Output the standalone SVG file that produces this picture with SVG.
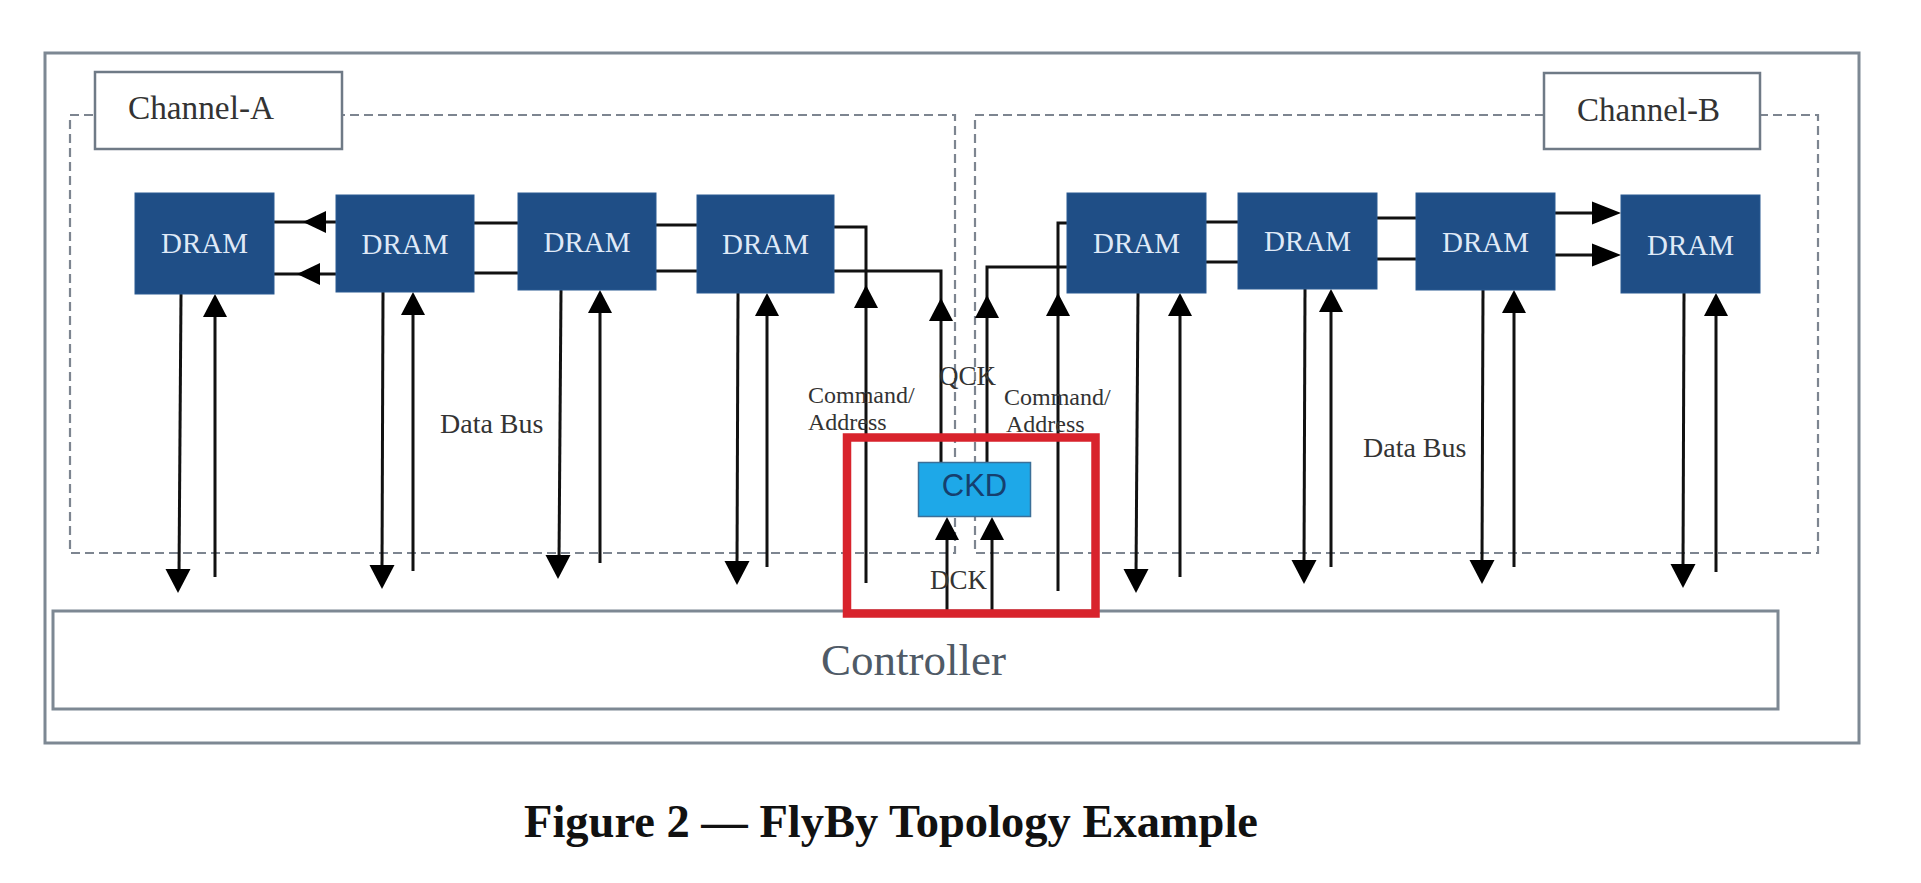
<svg xmlns="http://www.w3.org/2000/svg" xmlns:xlink="http://www.w3.org/1999/xlink" width="1921" height="883" viewBox="0 0 1921 883">
<style>
.frame{fill:#fff;stroke:#7d8893;stroke-width:3}
.dash{fill:none;stroke:#7d8590;stroke-width:2.2;stroke-dasharray:9 5}
.lbl{fill:#fff;stroke:#6f7a86;stroke-width:2.5}
.dram{fill:#1f4e86;stroke:#2a5a92;stroke-width:1}
.dtxt{font-family:"Liberation Serif","Times New Roman",serif;font-size:29px;fill:#dfe9f7;text-anchor:middle}
.ser{font-family:"Liberation Serif","Times New Roman",serif;fill:#333}
.w{fill:none;stroke:#111;stroke-width:3}
.ah{fill:#000}
</style>
<defs>
<path id="up" d="M0,0 L12,23 L-12,23 Z"/>
<path id="dn" d="M0,0 L12.5,-24 L-12.5,-24 Z"/>
<path id="lt" d="M0,0 L23,-11 L23,11 Z"/>
<path id="rt" d="M0,0 L-29,-11.5 L-29,11.5 Z"/>
</defs>
<rect width="1921" height="883" fill="#fff"/>
<g id="frame">
<rect class="frame" x="45" y="53" width="1814" height="690"/>
</g>
<g id="channel-a">
<path class="dash" d="M70,115 H955 V553 H70 Z"/>
<rect class="lbl" x="95" y="72" width="247" height="77"/>
<text class="ser" x="128" y="119" font-size="33" textLength="146" lengthAdjust="spacingAndGlyphs">Channel-A</text>
</g>
<g id="channel-b">
<path class="dash" d="M975,115 H1818 V553 H975 Z"/>
<rect class="lbl" x="1544" y="73" width="216" height="76"/>
<text class="ser" x="1577" y="121" font-size="33">Channel-B</text>
</g>
<g id="controller">
<rect class="frame" x="53" y="611" width="1725" height="98"/>
<text x="821" y="675" font-family="Liberation Serif,'Times New Roman',serif" font-size="45" fill="#4f5a66">Controller</text>
</g>
<g id="connectors">
<path class="w" d="M336,222 H274"/>
<path class="w" d="M336,274 H274"/>
<use href="#lt" class="ah" x="303" y="222"/>
<use href="#lt" class="ah" x="297" y="274"/>
<path class="w" d="M474,223 H518"/>
<path class="w" d="M474,273 H518"/>
<path class="w" d="M656,225 H697"/>
<path class="w" d="M656,271 H697"/>
<path class="w" d="M834,227 H866 V583"/>
<use href="#up" class="ah" x="866" y="285"/>
<path class="w" d="M834,271 H941 V462"/>
<use href="#up" class="ah" x="941" y="298"/>
<path class="w" d="M1067,267 H987 V462"/>
<use href="#up" class="ah" x="987" y="295"/>
<path class="w" d="M1067,223 H1058 V591"/>
<use href="#up" class="ah" x="1058" y="293"/>
<path class="w" d="M1206,222 H1238"/>
<path class="w" d="M1206,262 H1238"/>
<path class="w" d="M1377,218 H1416"/>
<path class="w" d="M1377,259 H1416"/>
<path class="w" d="M1555,213 H1600"/>
<path class="w" d="M1555,255 H1600"/>
<use href="#rt" class="ah" x="1621" y="213"/>
<use href="#rt" class="ah" x="1621" y="255"/>
<path class="w" d="M947,611 V530"/>
<path class="w" d="M992,611 V530"/>
<use href="#up" class="ah" x="947" y="517"/>
<use href="#up" class="ah" x="992" y="517"/>
<path class="w" d="M181,294 L179,575"/>
<use href="#dn" class="ah" x="178" y="593"/>
<path class="w" d="M215,577 V305"/>
<use href="#up" class="ah" x="215" y="294"/>
<path class="w" d="M383,292 L382,572"/>
<use href="#dn" class="ah" x="382" y="589"/>
<path class="w" d="M413,571 V303"/>
<use href="#up" class="ah" x="413" y="292"/>
<path class="w" d="M561,290 L559,562"/>
<use href="#dn" class="ah" x="558" y="579"/>
<path class="w" d="M600,563 V301"/>
<use href="#up" class="ah" x="600" y="290"/>
<path class="w" d="M738,293 L737,568"/>
<use href="#dn" class="ah" x="737" y="585"/>
<path class="w" d="M767,567 V304"/>
<use href="#up" class="ah" x="767" y="293"/>
<path class="w" d="M1138,293 L1136,576"/>
<use href="#dn" class="ah" x="1136" y="593"/>
<path class="w" d="M1180,577 V304"/>
<use href="#up" class="ah" x="1180" y="293"/>
<path class="w" d="M1305,289 L1304,567"/>
<use href="#dn" class="ah" x="1304" y="584"/>
<path class="w" d="M1331,567 V300"/>
<use href="#up" class="ah" x="1331" y="289"/>
<path class="w" d="M1483,290 L1482,567"/>
<use href="#dn" class="ah" x="1482" y="584"/>
<path class="w" d="M1514,567 V301"/>
<use href="#up" class="ah" x="1514" y="290"/>
<path class="w" d="M1684,293 L1683,571"/>
<use href="#dn" class="ah" x="1683" y="588"/>
<path class="w" d="M1716,572 V304"/>
<use href="#up" class="ah" x="1716" y="293"/>
</g>
<g id="dram1"><rect class="dram" x="135" y="193" width="139" height="101"/><text class="dtxt" x="204.5" y="253">DRAM</text></g>
<g id="dram2"><rect class="dram" x="336" y="195" width="138" height="97"/><text class="dtxt" x="405" y="254">DRAM</text></g>
<g id="dram3"><rect class="dram" x="518" y="193" width="138" height="97"/><text class="dtxt" x="587" y="252">DRAM</text></g>
<g id="dram4"><rect class="dram" x="697" y="195" width="137" height="98"/><text class="dtxt" x="765.5" y="254">DRAM</text></g>
<g id="dram5"><rect class="dram" x="1067" y="193" width="139" height="100"/><text class="dtxt" x="1136.5" y="253">DRAM</text></g>
<g id="dram6"><rect class="dram" x="1238" y="193" width="139" height="96"/><text class="dtxt" x="1307.5" y="251">DRAM</text></g>
<g id="dram7"><rect class="dram" x="1416" y="193" width="139" height="97"/><text class="dtxt" x="1485.5" y="252">DRAM</text></g>
<g id="dram8"><rect class="dram" x="1621" y="195" width="139" height="98"/><text class="dtxt" x="1690.5" y="255">DRAM</text></g>
<g id="labels">
<text class="ser" x="440" y="433" font-size="28">Data Bus</text>
<text class="ser" x="1363" y="457" font-size="28">Data Bus</text>
<text class="ser" x="808" y="403" font-size="24">Command/</text>
<text class="ser" x="808" y="430" font-size="24">Address</text>
<text class="ser" x="1004" y="405" font-size="24">Command/</text>
<text class="ser" x="1006" y="432" font-size="24">Address</text>
<text class="ser" x="939" y="385" font-size="27">QCK</text>
<text class="ser" x="930" y="589" font-size="27">DCK</text>
</g>
<g id="ckd">
<rect x="918.5" y="462.5" width="112" height="54" fill="#1ea8e8" stroke="#3b6f98" stroke-width="1.5"/>
<text x="974.5" y="496" font-family="Liberation Sans,Arial,sans-serif" font-size="31" fill="#163f6e" text-anchor="middle">CKD</text>
</g>
<g id="highlight">
<rect x="847" y="437.5" width="248.5" height="176" fill="none" stroke="#d8232c" stroke-width="8.5"/>
</g>
<g id="caption">
<text x="524" y="837" font-family="Liberation Serif,'Times New Roman',serif" font-weight="bold" font-size="46" fill="#111" textLength="734" lengthAdjust="spacingAndGlyphs">Figure 2 — FlyBy Topology Example</text>
</g>
</svg>
